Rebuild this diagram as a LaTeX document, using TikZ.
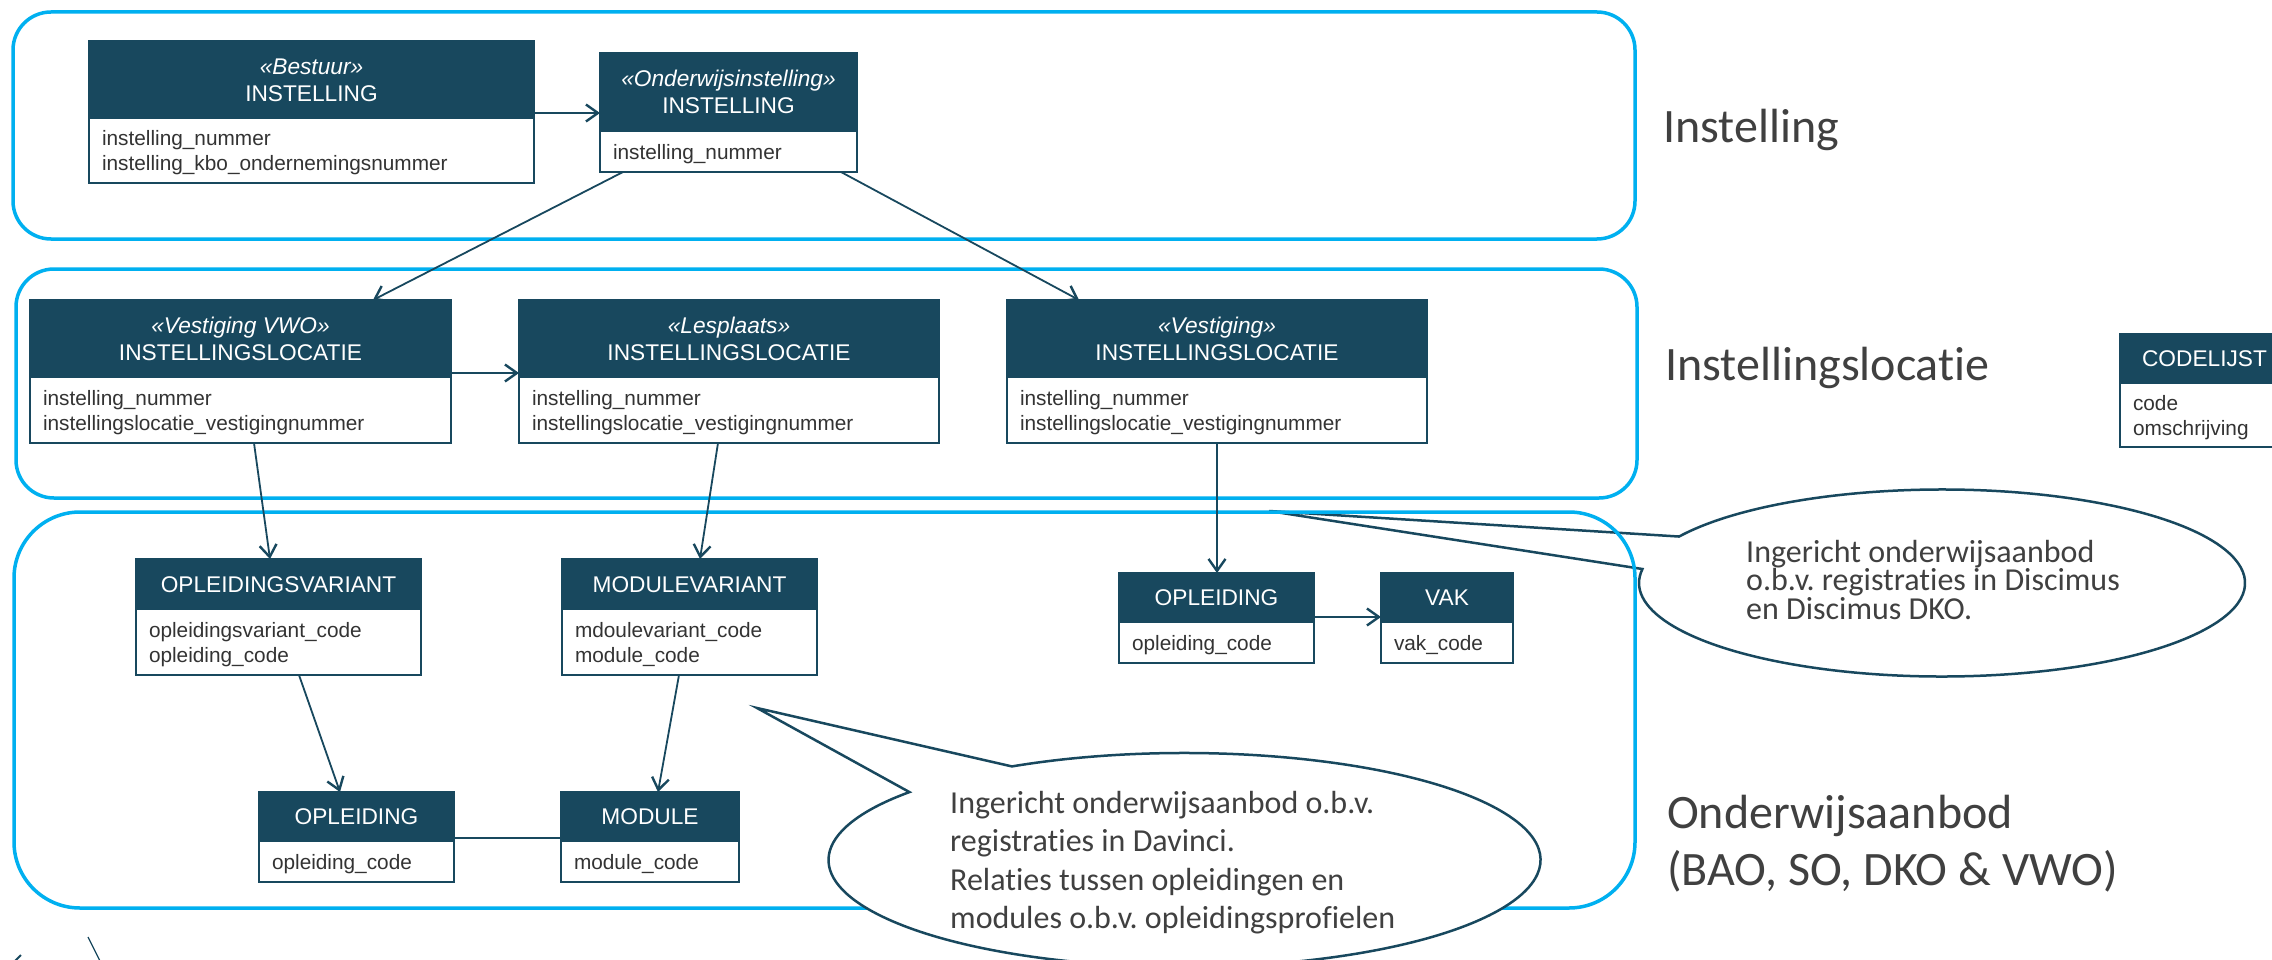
\documentclass[tikz,border=0pt]{standalone}
\usepackage{fontspec}
\setmainfont{Liberation Sans}
\newfontfamily\calibfont[Ligatures=NoCommon]{Carlito}
\usetikzlibrary{arrows.meta,calc}
\frenchspacing
\definecolor{umlteal}{HTML}{18485E}
\definecolor{cblue}{HTML}{00B0F0}
\definecolor{txtgray}{HTML}{404040}
\definecolor{attrgray}{HTML}{333333}
\newcommand\bx{\rule[-0.19\baselineskip]{0pt}{\baselineskip}}
\newcommand\nolsl{\lineskiplimit-100pt\relax}
\tikzset{
  hdr/.style={draw=umlteal, fill=umlteal, line width=2.5pt, text=white, inner sep=0pt, outer sep=0pt,
    align=center, font=\fontsize{22.7}{27}\selectfont, anchor=north west},
  attr/.style={draw=umlteal, fill=white, line width=2.5pt, text=attrgray, inner xsep=13pt, inner ysep=0pt,
    outer sep=0pt, align=left, font=\fontsize{20.8}{25}\selectfont, anchor=north west},
  cont/.style={draw=cblue, line width=3.5pt},
  conn/.style={draw=umlteal, line width=1.8pt},
  arr/.style={conn, -{Straight Barb[length=12pt,width=17pt,line width=2.4pt]}},
  harr/.style={arr, line width=2.6pt},
  bubble/.style={draw=umlteal, fill=white, line width=2.5pt, line join=miter},
  bubtext/.style={text=txtgray, inner sep=0pt, anchor=north west, align=left},
  seclabel/.style={text=txtgray, inner sep=0pt, font={\calibfont\fontsize{48}{57}\selectfont\nolsl}},
}
\newcommand{\umlclass}[8]{%
  \pgfmathsetlengthmacro\ucW{#4-#2}%
  \pgfmathsetlengthmacro\ucTW{#4-#2-26}%
  \pgfmathsetlengthmacro\ucHH{#5-#3}%
  \pgfmathsetlengthmacro\ucBH{#6-#5}%
  \node[hdr, minimum width=\ucW, minimum height=\ucHH] (#1h) at (#2,#3) {#7};
  \node[attr, text width=\ucTW, minimum height=\ucBH] (#1b) at (#2,#5) {#8};
}
\begin{document}
\begin{tikzpicture}[x=1pt,y=-1pt]
\useasboundingbox (0,0) rectangle (2272,960);
\clip (0,0) rectangle (2272,960);
\fill[white] (0,0) rectangle (2272,960);

% callout 1 (below the frames)
\coordinate (b1c) at (1942,583);
\coordinate (b1tip) at (1269,511);
\path[bubble] (b1tip) -- ($(b1c)+(209.8:303 and 93.5)$)
  arc[start angle=209.8, end angle=548.6, x radius=303, y radius=93.5] -- cycle;
\node[bubtext, font={\calibfont\fontsize{32}{28.5}\selectfont\nolsl}] (b1t) at (1746,538)
  {\rule{0pt}{24pt}Ingericht onderwijsaanbod\\o.b.v. registraties in Discimus\\en Discimus DKO.};

% frames
\draw[cont, rounded corners=38pt] (13,12) rectangle (1635,239);
\draw[cont, rounded corners=38pt] (16,269) rectangle (1637,498);
\draw[cont, rounded corners=66pt] (14,512) rectangle (1635,908);

% section labels
\node[seclabel, anchor=base west] (lab1) at (1663,143) {Instelling};
\node[seclabel, anchor=base west] (lab2) at (1665,380) {Instellingslocatie};
\node[seclabel, anchor=north west, align=left] (lab3) at (1667,792)
  {\rule{0pt}{36pt}Onderwijsaanbod\\(BAO, SO, DKO \& VWO)};

% classes
\umlclass{best}{89}{41}{534}{118}{183}{{\itshape «Bestuur»}\bx\\INSTELLING\bx}{instelling\_nummer\bx\\instelling\_kbo\_ondernemingsnummer\bx}
\umlclass{onw}{600}{53}{857}{131}{172}{{\itshape «Onderwijsinstelling»}\bx\\INSTELLING\bx}{instelling\_nummer\bx}
\umlclass{vwo}{30}{300}{451}{377}{443}{{\itshape «Vestiging VWO»}\bx\\INSTELLINGSLOCATIE\bx}{instelling\_nummer\bx\\instellingslocatie\_vestigingnummer\bx}
\umlclass{les}{519}{300}{939}{377}{443}{{\itshape «Lesplaats»}\bx\\INSTELLINGSLOCATIE\bx}{instelling\_nummer\bx\\instellingslocatie\_vestigingnummer\bx}
\umlclass{ves}{1007}{300}{1427}{377}{443}{{\itshape «Vestiging»}\bx\\INSTELLINGSLOCATIE\bx}{instelling\_nummer\bx\\instellingslocatie\_vestigingnummer\bx}
\umlclass{ov}{136}{559}{421}{609}{675}{OPLEIDINGSVARIANT\bx}{opleidingsvariant\_code\bx\\opleiding\_code\bx}
\umlclass{mv}{562}{559}{817}{609}{675}{MODULEVARIANT\bx}{mdoulevariant\_code\bx\\module\_code\bx}
\umlclass{opl}{259}{792}{454}{841}{882}{OPLEIDING\bx}{opleiding\_code\bx}
\umlclass{mod}{561}{792}{739}{841}{882}{MODULE\bx}{module\_code\bx}
\umlclass{oplb}{1119}{573}{1314}{622}{663}{OPLEIDING\bx}{opleiding\_code\bx}
\umlclass{vak}{1381}{573}{1513}{622}{663}{VAK\bx}{vak\_code\bx}
\umlclass{code}{2120}{334}{2289}{383}{447}{CODELIJST\bx}{code\bx\\omschrijving\bx}

% connectors
\draw[harr] (besth.east |- 0,113) -- (onwh.west |- 0,113);
\draw[arr] (onwb.south -| 623,0) -- (vwoh.north -| 373,0);
\draw[arr] (onwb.south -| 841,0) -- (vesh.north -| 1079,0);
\draw[harr] (vwoh.east |- 0,373) -- (lesh.west |- 0,373);
\draw[arr] (vwob.south -| 254,0) -- (ovh.north -| 270,0);
\draw[arr] (lesb.south -| 718,0) -- (mvh.north -| 700,0);
\draw[arr] (vesb.south -| 1217,0) -- (oplbh.north -| 1217,0);
\draw[arr] (ovb.south -| 299,0) -- (oplh.north -| 340,0);
\draw[arr] (mvb.south -| 679,0) -- (modh.north -| 658,0);
\draw[conn, line width=2.2pt] (oplh.east |- 0,838) -- (modh.west |- 0,838);
\draw[harr] (oplbh.east |- 0,617) -- (vakh.west |- 0,617);

% callout 2 (above the frames)
\coordinate (b2c) at (1184.5,860);
\coordinate (b2tip) at (757,708);
\path[bubble] (b2tip) -- ($(b2c)+(241:356 and 107)$)
  arc[start angle=241, end angle=579.4, x radius=356, y radius=107] -- cycle;
\node[bubtext, font={\calibfont\fontsize{32}{38.5}\selectfont\nolsl}] (b2t) at (950,789)
  {\rule{0pt}{24pt}Ingericht onderwijsaanbod o.b.v.\\registraties in Davinci.\\Relaties tussen opleidingen en\\modules o.b.v. opleidingsprofielen};

% fragments cut off at the lower edge
\draw[umlteal, line width=1.2pt] (88,937) -- (101,963);
\draw[umlteal, line width=2pt] (15,961) -- (21,955);
\end{tikzpicture}
\end{document}
